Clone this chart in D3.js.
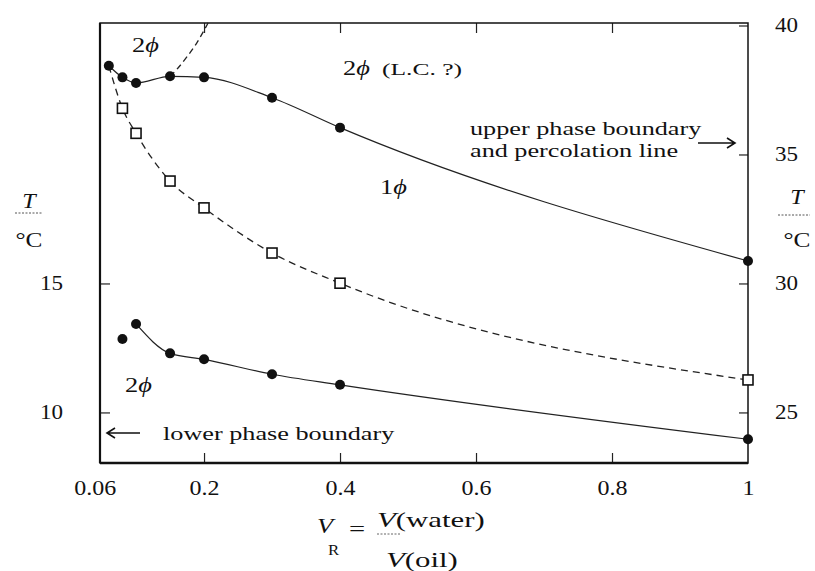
<!DOCTYPE html>
<html>
<head>
<meta charset="utf-8">
<script src="https://cdn.jsdelivr.net/npm/d3@7"></script>
<style>
  html, body { margin: 0; padding: 0; background: #fff; }
  svg { display: block; }
  text { font-family: "Liberation Serif", "Times New Roman", serif; fill: #111; }
</style>
</head>
<body>
<svg id="chart" width="815" height="571"></svg>
<script>
// Volume ratio V_R = V(water)/V(oil) and phase-boundary temperatures (°C)
const ratioUpper = [0.06, 0.08, 0.1, 0.15, 0.2, 0.3, 0.4, 1.0];
const tempUpper  = [38.44, 37.99, 37.77, 38.03, 37.99, 37.20, 36.04, 30.87];   // right scale
const ratioPerc  = [0.08, 0.1, 0.15, 0.2, 0.3, 0.4, 1.0];
const tempPerc   = [36.79, 35.82, 33.97, 32.93, 31.18, 30.01, 26.26];          // right scale
const ratioLower = [0.08, 0.1, 0.15, 0.2, 0.3, 0.4, 1.0];
const tempLower  = [12.85, 13.43, 12.29, 12.06, 11.48, 11.07, 8.96];           // left scale
// upper two-phase (L.C.) boundary branching off the upper curve
const ratioLC = [0.15, 0.16, 0.175, 0.189, 0.199, 0.206];
const tempLC  = [38.03, 38.30, 38.79, 39.31, 39.76, 40.10];

const xTicks      = [0.06, 0.2, 0.4, 0.6, 0.8, 1];
const xTickLabels = ["0.06", "0.2", "0.4", "0.6", "0.8", "1"];
const leftTicks   = [10, 15];
const rightTicks  = [25, 30, 35, 40];

const svg = d3.select("#chart");
const L = 100, R = 748, T = 23, B = 463;

const x  = d3.scaleLinear().domain([0.047, 1]).range([L, R]);
const yR = d3.scaleLinear().domain([23.04, 40.097]).range([B, T]);
const yL = d3.scaleLinear().domain([8.04, 25.097]).range([B, T]);

// horizontally widened text, positioned by its anchor point
function wideText(parent, px, py, sx, size, anchor) {
  return parent.append("text")
    .attr("transform", `translate(${px},${py}) scale(${sx},1)`)
    .attr("font-size", size)
    .attr("text-anchor", anchor || "start");
}

// ---- axes ----
const gx = svg.append("g").attr("transform", `translate(0,${B})`)
  .call(d3.axisBottom(x).tickValues(xTicks).tickFormat((d, i) => xTickLabels[i])
    .tickSizeInner(-10).tickSizeOuter(0).tickPadding(18));
gx.select(".domain").remove();
gx.selectAll(".tick line").attr("stroke", "#222").attr("stroke-width", 1.2)
  .filter(d => d === 0.06 || d === 1).remove();
gx.selectAll(".tick text").attr("font-size", 20).attr("font-family", null)
  .attr("transform", d => d === 0.06 ? "translate(-14,0) scale(1.2,1)" : "scale(1.2,1)");

const gt = svg.append("g").attr("transform", `translate(0,${T})`)
  .call(d3.axisTop(x).tickValues([0.2, 0.4, 0.6, 0.8]).tickFormat("")
    .tickSizeInner(-10).tickSizeOuter(0));
gt.select(".domain").remove();
gt.selectAll(".tick line").attr("stroke", "#222").attr("stroke-width", 1.2);

const gl = svg.append("g").attr("transform", `translate(${L},0)`)
  .call(d3.axisLeft(yL).tickValues(leftTicks).tickSizeInner(-10).tickSizeOuter(0));
gl.select(".domain").remove();
gl.selectAll(".tick line").attr("stroke", "#222").attr("stroke-width", 1.2);
gl.selectAll(".tick text").attr("font-size", 20).attr("font-family", null)
  .attr("x", 0).attr("transform", "translate(-37,0) scale(1.15,1)");

const gr = svg.append("g").attr("transform", `translate(${R},0)`)
  .call(d3.axisRight(yR).tickValues(rightTicks).tickSizeInner(-9).tickSizeOuter(0));
gr.select(".domain").remove();
gr.selectAll(".tick line").attr("stroke", "#222").attr("stroke-width", 1.2);
gr.selectAll(".tick text").attr("font-size", 20).attr("font-family", null)
  .attr("x", 0).attr("transform", "translate(27,0) scale(1.15,1)");

// frame
svg.append("rect").attr("x", L).attr("y", T).attr("width", R - L).attr("height", B - T)
  .attr("fill", "none").attr("stroke", "#111").attr("stroke-width", 1.5);
svg.append("line").attr("x1", L).attr("x2", R).attr("y1", B).attr("y2", B)
  .attr("stroke", "#111").attr("stroke-width", 2.4);
svg.append("line").attr("x1", L).attr("x2", L).attr("y1", T).attr("y2", B)
  .attr("stroke", "#111").attr("stroke-width", 2.2);

// ---- curves ----
const plot = svg.append("g");
const lineR = (xs, ys) => d3.line().curve(d3.curveMonotoneX)
  .x((d, i) => x(xs[i])).y((d, i) => yR(ys[i]))(xs);
const lineL = (xs, ys) => d3.line().curve(d3.curveMonotoneX)
  .x((d, i) => x(xs[i])).y((d, i) => yL(ys[i]))(xs);

plot.append("path").attr("d", lineR(ratioUpper, tempUpper))
  .attr("fill", "none").attr("stroke", "#222").attr("stroke-width", 1.2);

// percolation line starts at the first point of the upper boundary
const percX = [ratioUpper[0]].concat(ratioPerc);
const percY = [tempUpper[0]].concat(tempPerc);
plot.append("path").attr("d", lineR(percX, percY))
  .attr("fill", "none").attr("stroke", "#222").attr("stroke-width", 1.3)
  .attr("stroke-dasharray", "7,5");

plot.append("path").attr("d", lineR(ratioLC, tempLC))
  .attr("fill", "none").attr("stroke", "#222").attr("stroke-width", 1.3)
  .attr("stroke-dasharray", "6,4");

// lower boundary line runs from the maximum onwards
plot.append("path").attr("d", lineL(ratioLower.slice(1), tempLower.slice(1)))
  .attr("fill", "none").attr("stroke", "#222").attr("stroke-width", 1.2);

// ---- markers ----
plot.selectAll("circle.up").data(ratioUpper).join("circle").attr("class", "up")
  .attr("cx", d => x(d)).attr("cy", (d, i) => yR(tempUpper[i])).attr("r", 5).attr("fill", "#111");
plot.selectAll("circle.low").data(ratioLower).join("circle").attr("class", "low")
  .attr("cx", d => x(d)).attr("cy", (d, i) => yL(tempLower[i])).attr("r", 5).attr("fill", "#111");
plot.selectAll("rect.perc").data(ratioPerc).join("rect").attr("class", "perc")
  .attr("x", d => x(d) - 5).attr("y", (d, i) => yR(tempPerc[i]) - 5)
  .attr("width", 10).attr("height", 10)
  .attr("fill", "#fff").attr("stroke", "#111").attr("stroke-width", 1.6);

// ---- phase labels ----
function phase(px, py, n) {
  const t = wideText(svg, px, py, 1.2, 22);
  t.append("tspan").text(n);
  t.append("tspan").attr("font-style", "italic").text("ϕ");
  return t;
}
phase(132, 52, "2");
phase(343, 75, "2");
wideText(svg, 382, 75, 1.5, 17).text("(L.C. ?)");
phase(380, 194, "1");
phase(125, 392, "2");

// ---- annotations ----
wideText(svg, 470, 135, 1.38, 19).text("upper phase boundary");
wideText(svg, 470, 157, 1.38, 19).text("and percolation line");
svg.append("path").attr("d", "M698,143H735M727,138L735,143L727,148")
  .attr("fill", "none").attr("stroke", "#111").attr("stroke-width", 1.6);

wideText(svg, 163, 440, 1.38, 19).text("lower phase boundary");
svg.append("path").attr("d", "M140,433H107M115,428L107,433L115,438")
  .attr("fill", "none").attr("stroke", "#111").attr("stroke-width", 1.6);

// ---- axis titles ----
function tempTitle(cx, tY, barX1, barX2, barY, cY) {
  wideText(svg, cx, tY, 1.15, 21, "middle").attr("font-style", "italic").text("T");
  svg.append("line").attr("x1", barX1).attr("x2", barX2).attr("y1", barY).attr("y2", barY)
    .attr("stroke", "#555").attr("stroke-width", 1).attr("stroke-dasharray", "2,1.5");
  wideText(svg, cx, cY, 1.15, 22, "middle").text("°C");
}
tempTitle(29, 208, 15, 43, 213, 247);
tempTitle(797, 204, 778, 810, 215, 247);

// V_R = V(water) / V(oil)
wideText(svg, 317, 533, 1.2, 22).attr("font-style", "italic").text("V");
wideText(svg, 328, 555, 1.2, 14).text("R");
wideText(svg, 349, 536, 1.3, 22).text("=");
const num = wideText(svg, 377, 527, 1.4, 22);
num.append("tspan").attr("font-style", "italic").text("V");
num.append("tspan").text("(water)");
svg.append("line").attr("x1", 377).attr("x2", 400).attr("y1", 534).attr("y2", 534)
  .attr("stroke", "#666").attr("stroke-width", 1).attr("stroke-dasharray", "2,1.5");
const den = wideText(svg, 386, 567, 1.4, 22);
den.append("tspan").attr("font-style", "italic").text("V");
den.append("tspan").text("(oil)");
</script>
</body>
</html>
